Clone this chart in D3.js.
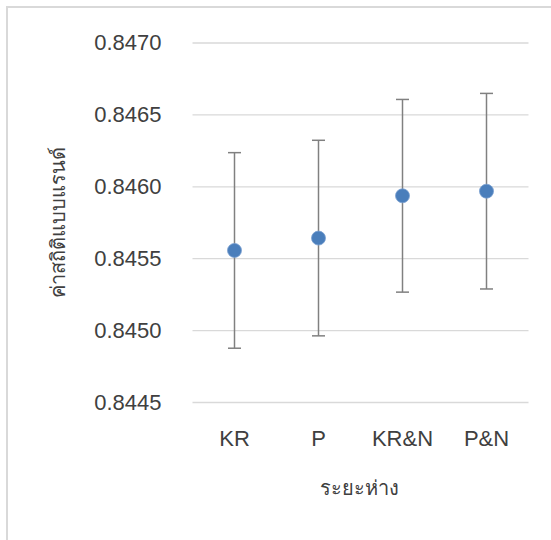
<!DOCTYPE html>
<html>
<head>
<meta charset="utf-8">
<script src="https://cdn.jsdelivr.net/npm/d3@7"></script>
<style>
  body { margin: 0; background: #fff; }
  svg { display: block; font-family: "Liberation Sans", Arial, sans-serif; }
</style>
</head>
<body>
<svg id="chart" width="551" height="540"></svg>
<script>
const categories = ['KR', 'P', 'KR&N', 'P&N'];
const means = [0.845554, 0.845640, 0.845934, 0.845966];
const errors = [0.00068, 0.00068, 0.00067, 0.00068];
const yTicks = [0.8445, 0.8450, 0.8455, 0.8460, 0.8465, 0.8470];

const svg = d3.select('#chart');

// chart frame (only left/top edges show in the crop)
svg.append('rect')
  .attr('x', 7).attr('y', 7)
  .attr('width', 600).attr('height', 600)
  .attr('fill', '#fff')
  .attr('stroke', '#d9d9d9')
  .attr('stroke-width', 2);

const plot = { left: 192.5, right: 528.5, top: 42.5, bottom: 402 };

const x = d3.scaleBand()
  .domain(categories)
  .range([plot.left, plot.right])
  .padding(0);

const y = d3.scaleLinear()
  .domain([0.8445, 0.8470])
  .range([plot.bottom, plot.top]);

// gridlines
const grid = svg.append('g')
  .attr('transform', 'translate(' + plot.left + ',0)')
  .call(d3.axisLeft(y).tickValues(yTicks).tickSize(-(plot.right - plot.left)).tickFormat(''));
grid.select('.domain').remove();
grid.selectAll('line').attr('stroke', '#d9d9d9').attr('stroke-width', 1.3);

// y tick labels
const yAxis = svg.append('g')
  .attr('transform', 'translate(' + plot.left + ',0)')
  .call(d3.axisLeft(y).tickValues(yTicks).tickSize(0).tickPadding(31).tickFormat(d3.format('.4f')));
yAxis.select('.domain').remove();
yAxis.selectAll('text')
  .attr('font-size', '22px')
  .attr('font-family', '"Liberation Sans", Arial, sans-serif')
  .attr('fill', '#404040');

// x tick labels
const xAxis = svg.append('g')
  .attr('transform', 'translate(0,' + plot.bottom + ')')
  .call(d3.axisBottom(x).tickSize(0).tickPadding(28));
xAxis.select('.domain').remove();
xAxis.selectAll('text')
  .attr('font-size', '22px')
  .attr('font-family', '"Liberation Sans", Arial, sans-serif')
  .attr('fill', '#404040');

// error bars
const bars = svg.append('g')
  .selectAll('g')
  .data(categories)
  .enter()
  .append('g');

bars.append('line')
  .attr('x1', d => x(d) + x.bandwidth() / 2)
  .attr('x2', d => x(d) + x.bandwidth() / 2)
  .attr('y1', (d, i) => y(means[i] + errors[i]))
  .attr('y2', (d, i) => y(means[i] - errors[i]))
  .attr('stroke', '#808080')
  .attr('stroke-width', 1.5);

[1, -1].forEach(sign => {
  bars.append('line')
    .attr('x1', d => x(d) + x.bandwidth() / 2 - 6.5)
    .attr('x2', d => x(d) + x.bandwidth() / 2 + 6.5)
    .attr('y1', (d, i) => y(means[i] + sign * errors[i]))
    .attr('y2', (d, i) => y(means[i] + sign * errors[i]))
    .attr('stroke', '#808080')
    .attr('stroke-width', 1.5);
});

// markers
svg.append('g')
  .selectAll('circle')
  .data(categories)
  .enter()
  .append('circle')
  .attr('cx', d => x(d) + x.bandwidth() / 2)
  .attr('cy', (d, i) => y(means[i]))
  .attr('r', 7)
  .attr('fill', '#4a7ebb')
  .attr('stroke', '#7aa0d0')
  .attr('stroke-width', 0.8);

// axis titles
svg.append('text')
  .attr('x', (plot.left + plot.right) / 2 - 1)
  .attr('y', 490)
  .attr('text-anchor', 'middle')
  .attr('dominant-baseline', 'middle')
  .attr('font-size', '20px')
  .attr('fill', '#404040')
  .text('ระยะห่าง');

svg.append('text')
  .attr('transform', 'translate(60,' + ((plot.top + plot.bottom) / 2) + ') rotate(-90)')
  .attr('text-anchor', 'middle')
  .attr('dominant-baseline', 'middle')
  .attr('font-size', '20px')
  .attr('fill', '#404040')
  .text('ค่าสถิติแบบแรนด์');
</script>
</body>
</html>
